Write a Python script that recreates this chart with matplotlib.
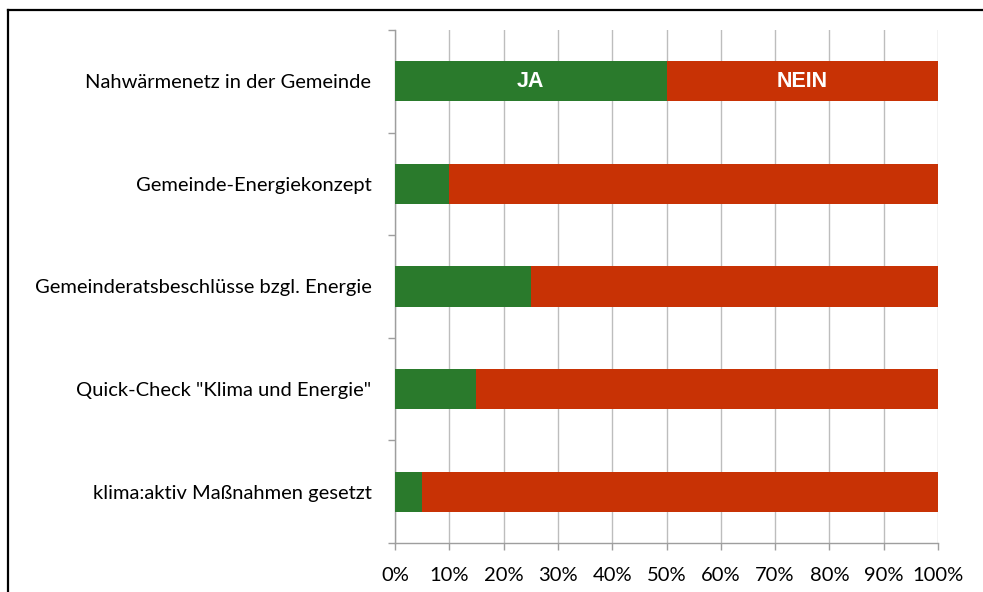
import numpy as np
import matplotlib.pyplot as plt
from matplotlib.lines import Line2D
from matplotlib.ticker import FixedLocator

# Daten
categories = ['Nahwärmenetz in der Gemeinde', 'Gemeinde-Energiekonzept',
              'Gemeinderatsbeschlüsse bzgl. Energie', 'Quick-Check "Klima und Energie"',
              'klima:aktiv Maßnahmen gesetzt']
ja = [50, 10, 25, 15, 5]
nein = [50, 90, 75, 85, 95]
xticks = [0, 10, 20, 30, 40, 50, 60, 70, 80, 90, 100]

GREEN = '#2A7A2C'
RED = '#C83205'
GRID = '#BDBDBD'
AXIS = '#9E9E9E'

plt.rcParams['font.family'] = ['Lato', 'DejaVu Sans']

fig = plt.figure(figsize=(9.83, 5.92), dpi=100)
ax = fig.add_axes([395 / 983, 1 - 543 / 592, 543 / 983, 513 / 592])

y = np.arange(len(categories))
ax.barh(y, ja, height=0.39, color=GREEN, zorder=3)
ax.barh(y, nein, left=ja, height=0.39, color=RED, zorder=3)

# Beschriftung im ersten Balken
ax.text(ja[0] / 2, y[0], 'JA', color='white', fontsize=15.5, fontweight='bold',
        family='Liberation Sans', ha='center', va='center', zorder=4)
ax.text(ja[0] + nein[0] / 2, y[0], 'NEIN', color='white', fontsize=15.5, fontweight='bold',
        family='Liberation Sans', ha='center', va='center', zorder=4)

ax.set_xlim(0, 100)
ax.set_ylim(len(categories) - 0.5, -0.5)
ax.set_xticks(xticks)
ax.set_xticklabels([f'{v}%' for v in xticks], fontsize=14.5)
ax.set_yticks(y)
ax.set_yticklabels(categories, fontsize=14.5)
ax.tick_params(axis='y', which='major', length=0, pad=17)
ax.yaxis.set_minor_locator(FixedLocator(np.arange(-0.5, len(categories), 1)))
ax.tick_params(axis='y', which='minor', length=5, color=AXIS, width=1)
ax.tick_params(axis='x', length=5, color=AXIS, width=1, pad=12)

ax.grid(axis='x', color=GRID, linewidth=1, zorder=0)
for s in ['top', 'right']:
    ax.spines[s].set_visible(False)
for s in ['left', 'bottom']:
    ax.spines[s].set_color(AXIS)
    ax.spines[s].set_linewidth(1)

# Rahmen
fig.add_artist(Line2D([8 / 983, 1], [1 - 10 / 592, 1 - 10 / 592], color='black', lw=1.6,
                      transform=fig.transFigure))
fig.add_artist(Line2D([8 / 983, 8 / 983], [0, 1 - 10 / 592], color='black', lw=1.6,
                      transform=fig.transFigure))

fig.savefig('out.png', dpi=100)
